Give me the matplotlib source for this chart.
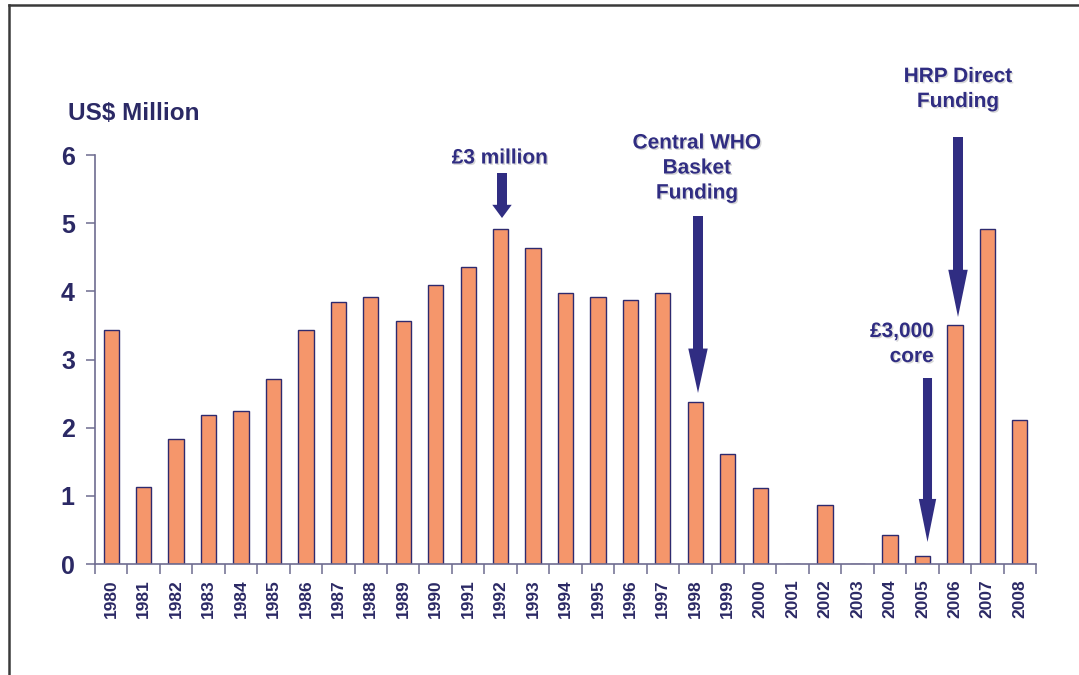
import matplotlib
matplotlib.use("Agg")
import matplotlib.pyplot as plt
import matplotlib.patheffects as pe
from matplotlib.lines import Line2D

years = [str(y) for y in range(1980, 2009)]
funding = [3.43, 1.13, 1.84, 2.18, 2.24, 2.71, 3.44, 3.84, 3.91, 3.57,
           4.10, 4.36, 4.91, 4.63, 3.97, 3.92, 3.88, 3.98, 2.37, 1.61,
           1.11, 0.0, 0.86, 0.0, 0.42, 0.12, 3.51, 4.91, 2.11]
y_ticks = [0, 1, 2, 3, 4, 5, 6]

BAR = "#F5966B"
EDGE = "#2E2A6E"
AXC = "#6E6C90"
TXT = "#2B2965"
ANN = "#302D82"

plt.rcParams['font.family'] = ['Liberation Sans', 'DejaVu Sans']

fig = plt.figure(figsize=(10.79, 6.75), dpi=100)
ax = fig.add_axes([95/1079, 1-564/675, (1036-95)/1079, (564-155)/675])

x = list(range(len(years)))
ax.bar(x, funding, width=0.47, color=BAR, edgecolor=EDGE, linewidth=1.0, zorder=2)

ax.set_xlim(-0.5, len(years)-0.5)
ax.set_ylim(0, 6)
ax.set_yticks(y_ticks)
ax.set_yticklabels([str(v) for v in y_ticks], fontsize=18, fontweight='bold', color=TXT)
ax.set_xticks(x)
ax.set_xticklabels(years, rotation=90, fontsize=12.5, fontweight='bold', color=TXT)
ax.set_xticks([i - 0.5 for i in range(len(years)+1)], minor=True)
ax.tick_params(axis='x', which='major', length=0, pad=11)
ax.tick_params(axis='x', which='minor', length=7, width=1.1, color=AXC, direction='out')
ax.tick_params(axis='y', which='major', length=6.5, width=1.1, color=AXC, pad=8)
for s in ['top', 'right']:
    ax.spines[s].set_visible(False)
for s in ['left', 'bottom']:
    ax.spines[s].set_color(AXC)
    ax.spines[s].set_linewidth(1.2)

fig.text(68/1079, 1-113/675, "US$ Million", fontsize=17.5, fontweight='bold',
         color=TXT, ha='left', va='center')

shadow = [pe.withSimplePatchShadow(offset=(1, -1), shadow_rgbFace='#999999', alpha=0.4)]

def ptxt(px, py, s, ha='center'):
    fig.text(px/1079, 1-py/675, s, fontsize=15, fontweight='bold', color=ANN,
             ha=ha, va='center', multialignment=ha, linespacing=1.4, path_effects=shadow)

ptxt(500, 158, "£3 million")
ptxt(697, 168, "Central WHO\nBasket\nFunding")
ptxt(958, 89, "HRP Direct\nFunding")
ptxt(934, 344, "£3,000\ncore", ha='right')

def parrow(px, ytop, ytip, hl, hw=14, tw=7.2):
    # pixel coords -> figure fraction
    ax.annotate('', xy=(px/1079, 1-ytip/675), xytext=(px/1079, 1-ytop/675),
                xycoords='figure fraction', textcoords='figure fraction',
                arrowprops=dict(arrowstyle=f"simple,head_length={hl},head_width={hw},tail_width={tw}",
                                color=ANN, shrinkA=0, shrinkB=0, mutation_scale=1,
                                linewidth=0))

parrow(502, 173, 218, 9.5)
parrow(698, 216, 393, 32)
parrow(958, 137, 317, 34)
parrow(927.5, 378, 542, 31, hw=12.5, tw=6.5)

# outer frame
fig.add_artist(Line2D([8.5/1079, 8.5/1079], [0, 1-5/675], transform=fig.transFigure,
                      color='#3a3a3a', linewidth=1.8))
fig.add_artist(Line2D([8.5/1079, 1], [1-5/675, 1-5/675], transform=fig.transFigure,
                      color='#3a3a3a', linewidth=1.8))

fig.savefig("out.png", dpi=100)
